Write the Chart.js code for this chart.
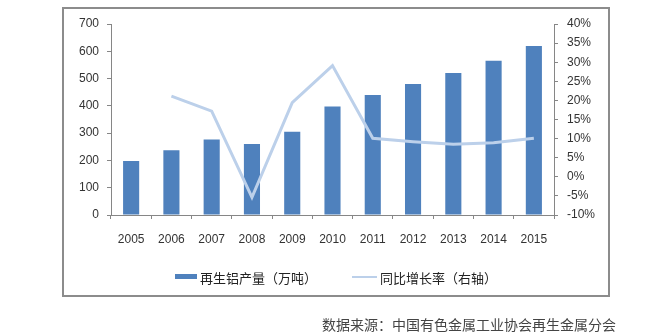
<!DOCTYPE html>
<html>
<head>
<meta charset="utf-8">
<script src="https://cdn.jsdelivr.net/npm/chart.js@4.4.0/dist/chart.umd.min.js"></script>
<style>
  body { margin: 0; background: #fff; width: 663px; height: 335px; position: relative; overflow: hidden; }
  #frame { position: absolute; left: 62px; top: 7px; width: 544px; height: 286px; border: 2px solid #8c8c8c; }
  canvas { position: absolute; left: 0; top: 0; }
  .legend { position: absolute; top: 268px; font: 13px "Noto Sans CJK SC", sans-serif; color: #222; white-space: nowrap; }
  .swatch { position: absolute; }
  #source { position: absolute; left: 322px; top: 314px; font: 14px "Noto Sans CJK SC", sans-serif; color: #444; white-space: nowrap; }
</style>
</head>
<body>
<div id="frame"></div>
<canvas id="chart" width="663" height="335"></canvas>
<div class="swatch" style="left:175px;top:274px;width:22px;height:5px;background:#4F81BD"></div>
<div class="legend" style="left:200px">再生铝产量（万吨）</div>
<div class="swatch" style="left:352px;top:276px;width:25px;height:2px;background:#BCD0EA"></div>
<div class="legend" style="left:380px">同比增长率（右轴）</div>
<div id="source">数据来源：中国有色金属工业协会再生金属分会</div>
<script>
const years = ['2005', '2006', '2007', '2008', '2009', '2010', '2011', '2012', '2013', '2014', '2015'];
const output = [198, 237, 277, 260, 305, 398, 440, 480, 520, 565, 619];
const growth = [null, 21.1, 17.2, -5.4, 19.4, 29.1, 10.1, 9.2, 8.5, 8.9, 10.1];

const axisColor = '#868686';
const tickFont = { family: 'Liberation Sans', size: 12 };

new Chart(document.getElementById('chart'), {
  data: {
    labels: years,
    datasets: [
      {
        type: 'line',
        label: '同比增长率（右轴）',
        data: growth,
        yAxisID: 'y1',
        borderColor: '#BCD0EA',
        borderWidth: 3,
        pointRadius: 0,
        tension: 0,
        order: 0,
      },
      {
        type: 'bar',
        label: '再生铝产量（万吨）',
        data: output,
        yAxisID: 'y',
        backgroundColor: '#4F81BD',
        barPercentage: 0.4,
        categoryPercentage: 1,
        order: 1,
      },
    ],
  },
  options: {
    responsive: false,
    animation: false,
    layout: { padding: { top: 24, bottom: 80, left: 0, right: 0 } },
    plugins: { legend: { display: false }, tooltip: { enabled: false } },
    scales: {
      x: {
        grid: { drawOnChartArea: false, color: axisColor, tickLength: 4 },
        border: { color: axisColor },
        ticks: { color: '#333', font: tickFont, padding: 13, maxRotation: 0 },
        afterFit: s => { s.height = 40; },
      },
      y: {
        position: 'left',
        min: 0,
        max: 700,
        grid: { drawOnChartArea: false, color: axisColor, tickLength: 4 },
        border: { color: axisColor },
        ticks: { stepSize: 100, color: '#333', font: tickFont, padding: 8 },
        afterFit: s => { s.width = 111; },
      },
      y1: {
        position: 'right',
        min: -10,
        max: 40,
        grid: { drawOnChartArea: false, color: axisColor, tickLength: 4 },
        border: { color: axisColor },
        ticks: { stepSize: 5, color: '#333', font: tickFont, padding: 9, callback: v => v + '%' },
        afterFit: s => { s.width = 109; },
      },
    },
  },
});
</script>
</body>
</html>
